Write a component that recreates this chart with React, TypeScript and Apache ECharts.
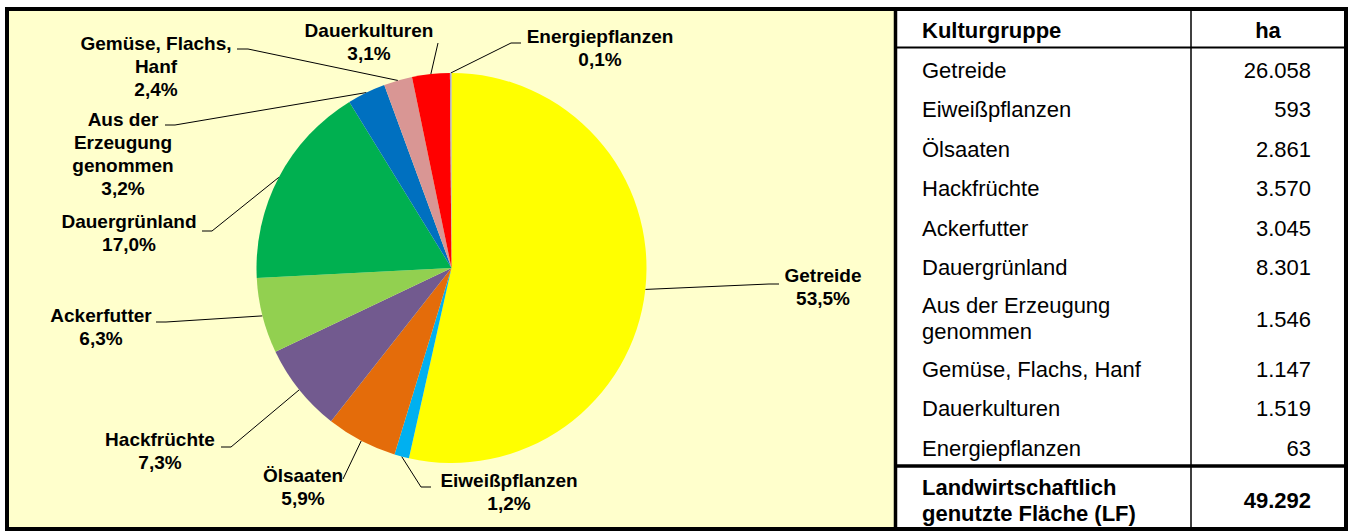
import React, { useEffect, useRef } from 'react';
import * as echarts from 'echarts';

// ---------- data ----------
const categories = [
  'Getreide',
  'Eiweißpflanzen',
  'Ölsaaten',
  'Hackfrüchte',
  'Ackerfutter',
  'Dauergrünland',
  'Aus der Erzeugung genommen',
  'Gemüse, Flachs, Hanf',
  'Dauerkulturen',
  'Energiepflanzen',
];
const areaHa = [26058, 593, 2861, 3570, 3045, 8301, 1546, 1147, 1519, 63];
const totalLF = 49292;
const tableHeader = ['Kulturgruppe', 'ha'];
const totalLabel = 'Landwirtschaftlich\ngenutzte Fläche (LF)';
const pieLabelNames = [
  'Getreide',
  'Eiweißpflanzen',
  'Ölsaaten',
  'Hackfrüchte',
  'Ackerfutter',
  'Dauergrünland',
  'Aus der\nErzeugung\ngenommen',
  'Gemüse, Flachs,\nHanf',
  'Dauerkulturen',
  'Energiepflanzen',
];
const tableRowNames = [
  'Getreide',
  'Eiweißpflanzen',
  'Ölsaaten',
  'Hackfrüchte',
  'Ackerfutter',
  'Dauergrünland',
  'Aus der Erzeugung\ngenommen',
  'Gemüse, Flachs, Hanf',
  'Dauerkulturen',
  'Energiepflanzen',
];

// ---------- styles / layout ----------
const colors = ['#FFFF00', '#00B0F0', '#E46C0A', '#725A8F', '#92D050', '#00B050', '#0070C0', '#D99694', '#FF0000', '#A6A6C8'];
const FONT = '"Liberation Sans", Arial, Helvetica, sans-serif';

// label block centre, line end at label, stub offset (towards pie)
const labelLayoutSpec: { c: [number, number]; end: [number, number]; stub: number }[] = [
  { c: [823, 287], end: [779, 284], stub: -10 },
  { c: [509, 492], end: [431, 487], stub: -10 },
  { c: [303, 487], end: [343, 479], stub: 0 },
  { c: [160, 451], end: [221, 447], stub: 10 },
  { c: [101, 327], end: [156, 322], stub: 10 },
  { c: [129, 233], end: [202, 231], stub: 10 },
  { c: [123, 154], end: [165, 125], stub: 10 },
  { c: [156, 66], end: [237, 49], stub: 11 },
  { c: [369, 42], end: [438, 43], stub: 0 },
  { c: [600, 48], end: [521, 43], stub: -10 },
];

const PIE_CX = 451.5;
const PIE_CY = 268;
const PIE_R = 195;

const sumValues = areaHa.reduce((a, b) => a + b, 0);
const pct = (v: number) => ((v / sumValues) * 100).toFixed(1).replace('.', ',') + '%';
const fmt = (v: number) => String(v).replace(/\B(?=(\d{3})+(?!\d))/g, '.');

function buildGraphics() {
  const g: any[] = [];
  // pie area background
  g.push({ type: 'rect', z: 0, silent: true, shape: { x: 9, y: 11, width: 886, height: 516 }, style: { fill: '#FFFFCC' } });
  // borders
  const line = (x1: number, y1: number, x2: number, y2: number, w: number) => ({
    type: 'line', z: 50, silent: true,
    shape: { x1, y1, x2, y2 },
    style: { stroke: '#000', lineWidth: w },
  });
  g.push({ type: 'rect', z: 50, silent: true, shape: { x: 7, y: 9, width: 1339, height: 520 }, style: { fill: null, stroke: '#000', lineWidth: 4 } });
  g.push(line(895.5, 9, 895.5, 529, 3.5));
  g.push(line(1191, 9, 1191, 529, 1.5));
  g.push(line(895, 47.5, 1346, 47.5, 2));
  g.push(line(895, 466, 1346, 466, 3.5));

  const text = (t: string, x: number, y: number, align: string, bold: boolean, lh = 26) => ({
    type: 'text', z: 60, silent: true, x, y,
    style: {
      text: t, fill: '#000', fontFamily: FONT, fontSize: 22, fontWeight: bold ? 'bold' : 'normal',
      lineHeight: lh, align, textAlign: align, verticalAlign: 'middle', textVerticalAlign: 'middle',
    },
  });
  const leftX = 922;
  const rightX = 1311;
  g.push(text(tableHeader[0], leftX, 30, 'left', true));
  g.push(text(tableHeader[1], 1268, 30, 'center', true));

  const rowH = 39.5;
  const doubleH = 62;
  let yTop = 70 - rowH / 2;
  tableRowNames.forEach((name, i) => {
    const h = name.includes('\n') ? doubleH : rowH;
    const yc = yTop + h / 2;
    g.push(text(name, leftX, yc, 'left', false));
    g.push(text(fmt(areaHa[i]), rightX, yc + (h > rowH ? 1 : 0), 'right', false));
    yTop += h;
  });
  g.push(text(totalLabel, leftX, 500, 'left', true));
  g.push(text(fmt(totalLF), rightX, 500, 'right', true));
  return g;
}

export default function App() {
  const ref = useRef<HTMLDivElement>(null);
  useEffect(() => {
    if (!ref.current) return;
    const chart = echarts.init(ref.current, undefined, { renderer: 'svg' });
    const cum: number[] = [];
    areaHa.reduce((acc, v, i) => { cum[i] = acc + v / 2; return acc + v; }, 0);
    chart.setOption({
      animation: false,
      graphic: { elements: buildGraphics() },
      series: [
        {
          type: 'pie',
          center: [PIE_CX, PIE_CY],
          radius: PIE_R,
          startAngle: 90,
          clockwise: true,
          avoidLabelOverlap: false,
          silent: true,
          emphasis: { disabled: true },
          itemStyle: { borderWidth: 0 },
          data: categories.map((c, i) => ({ name: c, value: areaHa[i], itemStyle: { color: colors[i] } })),
          label: {
            show: true,
            position: 'outside',
            formatter: (p: any) => pieLabelNames[p.dataIndex] + '\n' + pct(areaHa[p.dataIndex]),
            fontFamily: FONT,
            fontWeight: 'bold',
            fontSize: 19,
            lineHeight: 23,
            color: '#000',
          },
          labelLine: { show: true, length: 10, length2: 10, smooth: false, lineStyle: { color: '#000', width: 1 } },
          labelLayout: (params: any) => {
            const i = params.dataIndex;
            const spec = labelLayoutSpec[i];
            let p0 = params.labelLinePoints && params.labelLinePoints[0];
            if (!p0) {
              const ang = Math.PI / 2 - (cum[i] / sumValues) * Math.PI * 2;
              p0 = [PIE_CX + PIE_R * Math.cos(ang), PIE_CY - PIE_R * Math.sin(ang)];
            }
            const mid = [spec.end[0] + spec.stub, spec.end[1]];
            return {
              x: spec.c[0],
              y: spec.c[1],
              align: 'center',
              verticalAlign: 'middle',
              labelLinePoints: [p0, mid, spec.end],
            };
          },
        },
      ],
    });
    return () => chart.dispose();
  }, []);
  return <div ref={ref} style={{ position: 'fixed', left: 0, top: 0, width: 1350, height: 531, background: '#fff' }} />;
}
